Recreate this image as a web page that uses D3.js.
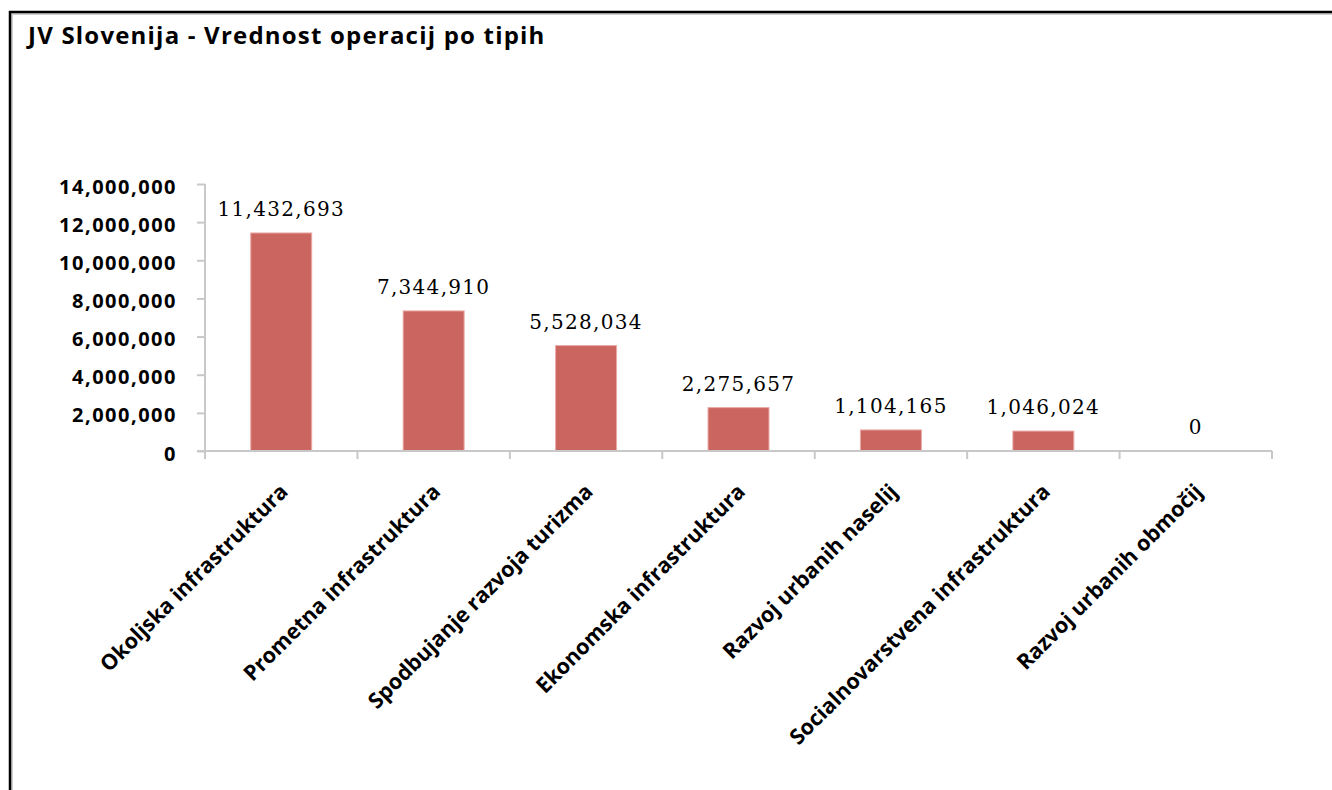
<!DOCTYPE html>
<html>
<head>
<meta charset="utf-8">
<script src="https://cdn.jsdelivr.net/npm/d3@7/dist/d3.min.js"></script>
<style>
  html, body { margin: 0; padding: 0; background: #fff; }
  svg { display: block; }
</style>
</head>
<body>
<svg id="chart" width="1332" height="790"></svg>
<script>
const title = "JV Slovenija - Vrednost operacij po tipih";
const categories = [
  "Okoljska infrastruktura",
  "Prometna infrastruktura",
  "Spodbujanje razvoja turizma",
  "Ekonomska infrastruktura",
  "Razvoj urbanih naselij",
  "Socialnovarstvena infrastruktura",
  "Razvoj urbanih območij"
];
const values = [11432693, 7344910, 5528034, 2275657, 1104165, 1046024, 0];
const yTicks = [0, 2000000, 4000000, 6000000, 8000000, 10000000, 12000000, 14000000];

const SANS = "'Open Sans', Lato, sans-serif";
const svg = d3.select("#chart");

// frame
svg.append("rect").attr("x", 12).attr("y", 14).attr("width", 1400).attr("height", 900)
  .attr("fill", "none").attr("stroke", "#d0d0d0").attr("stroke-width", 2);
svg.append("rect").attr("x", 10).attr("y", 12).attr("width", 1400).attr("height", 900)
  .attr("fill", "none").attr("stroke", "#000").attr("stroke-width", 2.5);

svg.append("text").attr("x", 28).attr("y", 44)
  .attr("font-family", SANS).attr("font-weight", "bold")
  .attr("font-size", 24).attr("letter-spacing", 1.2).attr("fill", "#000").text(title);

const x = d3.scaleBand().domain(categories).range([205, 1272]).paddingInner(0.6).paddingOuter(0.3);
const y = d3.scaleLinear().domain([0, 14000000]).range([451, 184]);

const fmt = d3.format(",");

// y axis
const yAxis = svg.append("g").attr("transform", "translate(205,0)")
  .call(d3.axisLeft(y).tickValues(yTicks).tickFormat(fmt).tickSize(8).tickPadding(20));
yAxis.select(".domain").attr("stroke", "#c8c8c8").attr("stroke-width", 2).attr("d", "M0,184V451");
yAxis.selectAll(".tick line").attr("stroke", "#c8c8c8").attr("stroke-width", 2);
yAxis.selectAll(".tick text")
  .attr("font-family", SANS).attr("font-weight", "bold")
  .attr("font-size", 20).attr("letter-spacing", 1.5).attr("fill", "#000")
  .attr("dy", "0.45em");

// bars
svg.append("g").selectAll("rect").data(values).join("rect")
  .attr("x", (d, i) => x(categories[i]))
  .attr("y", d => y(d))
  .attr("width", x.bandwidth())
  .attr("height", d => y(0) - y(d))
  .attr("fill", "#cb6560")
  .attr("stroke", "#eaaaa6").attr("stroke-width", 1);

// x axis
const step = x.step();
const xg = svg.append("g");
xg.append("line").attr("x1", 197).attr("x2", 1272).attr("y1", y(0)).attr("y2", y(0))
  .attr("stroke", "#c8c8c8").attr("stroke-width", 2);
const bounds = d3.range(categories.length + 1).map(i => 205 + i * step);
xg.selectAll("line.tk").data(bounds).join("line").attr("class", "tk")
  .attr("x1", d => d).attr("x2", d => d).attr("y1", y(0)).attr("y2", y(0) + 8)
  .attr("stroke", "#c8c8c8").attr("stroke-width", 2);

// category labels
svg.append("g").selectAll("text").data(categories).join("text")
  .attr("transform", d => `translate(${x(d) + x.bandwidth() / 2 + 8},${y(0) + 42}) rotate(-45)`)
  .attr("text-anchor", "end")
  .attr("font-family", SANS).attr("font-weight", "bold")
  .attr("font-size", 21.5).attr("fill", "#000")
  .text(d => d);

// value labels
svg.append("g").selectAll("text").data(values).join("text")
  .attr("x", (d, i) => x(categories[i]) + x.bandwidth() / 2)
  .attr("y", d => y(d) - 17)
  .attr("text-anchor", "middle")
  .attr("font-family", "'DejaVu Serif', serif")
  .attr("font-size", 20).attr("letter-spacing", 1.3).attr("fill", "#000")
  .text(d => fmt(d));
</script>
</body>
</html>
